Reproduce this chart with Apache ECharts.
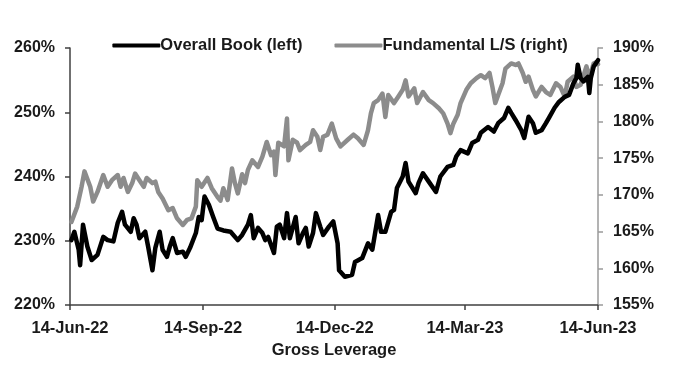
<!DOCTYPE html>
<html>
<head>
<meta charset="utf-8">
<script src="https://cdn.jsdelivr.net/npm/echarts@6/dist/echarts.min.js"></script>
<style>html,body{margin:0;padding:0;background:#fff}#c{width:680px;height:369px}</style>
</head>
<body>
<div id="c"></div>
<script>
// Overall Book (left axis, %)
const bookDates = ['2022-06-15','2022-06-17','2022-06-20','2022-06-21','2022-06-23','2022-06-26','2022-06-29','2022-07-03','2022-07-07','2022-07-10','2022-07-14','2022-07-17','2022-07-20','2022-07-22','2022-07-26','2022-07-28','2022-07-30','2022-08-01','2022-08-05','2022-08-07','2022-08-10','2022-08-12','2022-08-15','2022-08-17','2022-08-20','2022-08-22','2022-08-24','2022-08-27','2022-08-31','2022-09-02','2022-09-05','2022-09-09','2022-09-11','2022-09-13','2022-09-15','2022-09-18','2022-09-21','2022-09-24','2022-09-28','2022-10-03','2022-10-08','2022-10-11','2022-10-15','2022-10-17','2022-10-19','2022-10-22','2022-10-25','2022-10-27','2022-10-29','2022-11-02','2022-11-04','2022-11-06','2022-11-09','2022-11-11','2022-11-13','2022-11-17','2022-11-19','2022-11-22','2022-11-24','2022-11-26','2022-11-29','2022-12-01','2022-12-04','2022-12-06','2022-12-10','2022-12-13','2022-12-16','2022-12-17','2022-12-21','2022-12-26','2022-12-28','2023-01-02','2023-01-06','2023-01-09','2023-01-13','2023-01-15','2023-01-18','2023-01-22','2023-01-24','2023-01-26','2023-01-30','2023-02-01','2023-02-03','2023-02-08','2023-02-10','2023-02-13','2023-02-17','2023-02-22','2023-02-25','2023-03-02','2023-03-06','2023-03-08','2023-03-11','2023-03-16','2023-03-19','2023-03-23','2023-03-25','2023-03-30','2023-04-03','2023-04-06','2023-04-10','2023-04-13','2023-04-15','2023-04-18','2023-04-22','2023-04-24','2023-04-27','2023-04-30','2023-05-02','2023-05-06','2023-05-09','2023-05-11','2023-05-15','2023-05-18','2023-05-22','2023-05-25','2023-05-28','2023-05-30','2023-05-31','2023-06-02','2023-06-04','2023-06-07','2023-06-08','2023-06-09','2023-06-11','2023-06-14'];
const bookValues = [230.1,231.4,228.6,226.2,232.5,229.1,227.0,227.8,230.6,230.1,229.9,232.8,234.5,232.5,231.4,233.5,232.5,230.4,231.4,229.1,225.4,228.9,231.4,228.6,227.5,229.1,230.4,228.1,228.3,227.5,228.9,231.2,233.7,233.2,236.9,235.6,233.7,231.9,231.6,231.4,230.1,230.9,232.5,234.0,230.4,232.0,231.2,230.1,230.6,228.1,232.2,232.5,230.4,234.3,230.4,233.7,229.6,231.2,232.0,229.1,231.2,234.3,232.2,230.9,232.2,233.0,229.6,225.4,224.4,224.7,226.7,227.3,229.6,228.6,234.0,231.4,231.4,234.5,234.8,238.2,240.0,242.1,239.2,237.4,239.0,240.5,239.2,237.6,240.0,241.5,241.8,243.1,244.1,243.6,245.2,245.7,246.8,247.7,247.0,248.3,249.1,250.7,249.9,248.8,247.2,246.0,249.3,248.3,246.8,247.2,248.3,249.1,250.7,251.6,252.4,252.7,254.5,255.3,257.4,255.3,254.8,255.5,253.0,255.3,257.1,258.1];

// Fundamental L/S (right axis, %)
const fundDates = ['2022-06-15','2022-06-19','2022-06-22','2022-06-24','2022-06-28','2022-06-30','2022-07-03','2022-07-07','2022-07-10','2022-07-13','2022-07-17','2022-07-19','2022-07-21','2022-07-24','2022-07-27','2022-07-29','2022-08-01','2022-08-04','2022-08-06','2022-08-10','2022-08-12','2022-08-14','2022-08-17','2022-08-21','2022-08-24','2022-08-27','2022-08-31','2022-09-03','2022-09-06','2022-09-09','2022-09-10','2022-09-13','2022-09-17','2022-09-20','2022-09-24','2022-09-26','2022-09-28','2022-10-01','2022-10-04','2022-10-06','2022-10-08','2022-10-11','2022-10-13','2022-10-15','2022-10-18','2022-10-22','2022-10-25','2022-10-28','2022-10-31','2022-11-02','2022-11-03','2022-11-05','2022-11-09','2022-11-11','2022-11-12','2022-11-15','2022-11-18','2022-11-20','2022-11-24','2022-11-27','2022-11-29','2022-12-02','2022-12-04','2022-12-06','2022-12-09','2022-12-12','2022-12-15','2022-12-18','2022-12-23','2022-12-27','2022-12-30','2023-01-03','2023-01-06','2023-01-08','2023-01-10','2023-01-13','2023-01-16','2023-01-18','2023-01-20','2023-01-24','2023-01-27','2023-01-30','2023-02-01','2023-02-03','2023-02-07','2023-02-09','2023-02-13','2023-02-17','2023-02-20','2023-02-24','2023-02-27','2023-03-02','2023-03-04','2023-03-06','2023-03-09','2023-03-11','2023-03-15','2023-03-18','2023-03-22','2023-03-25','2023-03-28','2023-03-31','2023-04-02','2023-04-04','2023-04-06','2023-04-09','2023-04-11','2023-04-15','2023-04-18','2023-04-20','2023-04-23','2023-04-25','2023-04-27','2023-04-30','2023-05-02','2023-05-06','2023-05-09','2023-05-12','2023-05-16','2023-05-19','2023-05-22','2023-05-24','2023-05-28','2023-05-30','2023-06-02','2023-06-06','2023-06-08','2023-06-11','2023-06-13','2023-06-14'];
const fundValues = [166.3,168.4,171.1,173.2,171.1,169.1,170.4,172.7,171.1,172.0,172.7,171.1,172.3,170.4,171.6,172.9,172.0,171.1,172.3,171.6,171.8,170.4,169.5,167.9,168.2,166.8,165.9,166.6,166.8,168.4,172.0,171.1,172.3,170.9,169.7,169.2,170.9,169.3,173.6,171.6,170.2,172.8,171.6,173.4,174.7,173.8,175.2,177.2,175.4,175.9,172.7,177.1,176.6,180.4,174.7,177.5,177.1,176.1,176.8,177.2,178.8,177.9,176.1,177.9,178.2,179.7,177.7,176.6,177.5,178.2,177.7,176.8,178.8,181.1,182.5,182.9,183.8,180.6,183.6,182.5,183.4,184.3,185.6,183.4,184.5,182.5,184.0,182.9,182.5,181.8,181.1,179.7,178.4,179.7,180.9,182.5,184.3,185.2,185.9,186.3,185.9,186.6,184.7,182.5,183.6,185.2,187.2,187.9,187.7,187.9,186.6,185.4,186.1,184.3,183.4,184.7,184.0,183.6,185.2,184.7,183.4,185.4,186.1,184.7,185.0,187.5,185.9,187.9,188.1,187.8];

const xTickDates = ['2022-06-14','2022-09-14','2022-12-14','2023-03-14','2023-06-14'];
const leftTicks = [220, 230, 240, 250, 260];
const rightTicks = [155, 160, 165, 170, 175, 180, 185, 190];

const DAY = 86400000;
function toTs(s){ const p = s.split('-').map(Number); return Date.UTC(p[0], p[1]-1, p[2]); }
const T0 = toTs(xTickDates[0]);
function toDay(s){ return Math.round((toTs(s) - T0) / DAY); }
const MON = ['Jan','Feb','Mar','Apr','May','Jun','Jul','Aug','Sep','Oct','Nov','Dec'];
function fmtDay(v){ const d = new Date(T0 + Math.round(v) * DAY); return d.getUTCDate() + '-' + MON[d.getUTCMonth()] + '-' + String(d.getUTCFullYear()).slice(2); }

const xTicks = xTickDates.map(toDay);
const FONT = '"Liberation Sans", Arial, sans-serif';
const labelStyle = { fontFamily: FONT, fontWeight: 'bold', fontSize: 16, color: '#1a1a1a' };

const chart = echarts.init(document.getElementById('c'), null, { renderer: 'canvas' });
chart.setOption({
  animation: false,
  backgroundColor: '#fff',
  grid: { left: 70, right: 82, top: 48, bottom: 64 },
  legend: {
    top: 32, left: 'center',
    itemWidth: 48, itemHeight: 4, itemGap: 32,
    icon: 'roundRect',
    textStyle: Object.assign({}, labelStyle, { fontSize: 16.5, padding: [0, 0, 0, -5] }),
    data: ['Overall Book (left)', 'Fundamental L/S (right)']
  },
  xAxis: {
    type: 'value',
    min: xTicks[0], max: xTicks[xTicks.length - 1],
    name: 'Gross Leverage', nameLocation: 'middle', nameGap: 37,
    nameTextStyle: Object.assign({}, labelStyle, { fontSize: 16.5 }),
    axisLine: { show: true, lineStyle: { color: '#404040', width: 1.5 } },
    axisTick: { show: true, customValues: xTicks, length: 5, lineStyle: { color: '#404040', width: 1.5 } },
    axisLabel: Object.assign({}, labelStyle, { fontSize: 16.5, customValues: xTicks, formatter: fmtDay, margin: 15 }),
    splitLine: { show: false }
  },
  yAxis: [
    {
      type: 'value', min: leftTicks[0], max: leftTicks[leftTicks.length - 1], interval: 10,
      axisLine: { show: true, lineStyle: { color: '#404040', width: 1.5 } },
      axisTick: { show: true, length: 5, lineStyle: { color: '#404040', width: 1.5 } },
      axisLabel: Object.assign({}, labelStyle, { formatter: '{value}%', margin: 15 }),
      splitLine: { show: false }
    },
    {
      type: 'value', min: rightTicks[0], max: rightTicks[rightTicks.length - 1], interval: 5,
      position: 'right',
      axisLine: { show: true, lineStyle: { color: '#9a9a9a', width: 1.5 } },
      axisTick: { show: true, length: 5, lineStyle: { color: '#9a9a9a', width: 1.5 } },
      axisLabel: Object.assign({}, labelStyle, { formatter: '{value}%', margin: 15 }),
      splitLine: { show: false }
    }
  ],
  series: [
    {
      name: 'Fundamental L/S (right)', type: 'line', yAxisIndex: 1,
      showSymbol: false, symbol: 'none',
      lineStyle: { color: '#8c8c8c', width: 4.5, cap: 'round', join: 'round' },
      itemStyle: { color: '#8c8c8c' },
      data: fundDates.map((d, i) => [toDay(d), fundValues[i]])
    },
    {
      name: 'Overall Book (left)', type: 'line', yAxisIndex: 0,
      showSymbol: false, symbol: 'none',
      lineStyle: { color: '#000', width: 4.5, cap: 'round', join: 'round' },
      itemStyle: { color: '#000' },
      data: bookDates.map((d, i) => [toDay(d), bookValues[i]])
    }
  ]
});
</script>
</body>
</html>
